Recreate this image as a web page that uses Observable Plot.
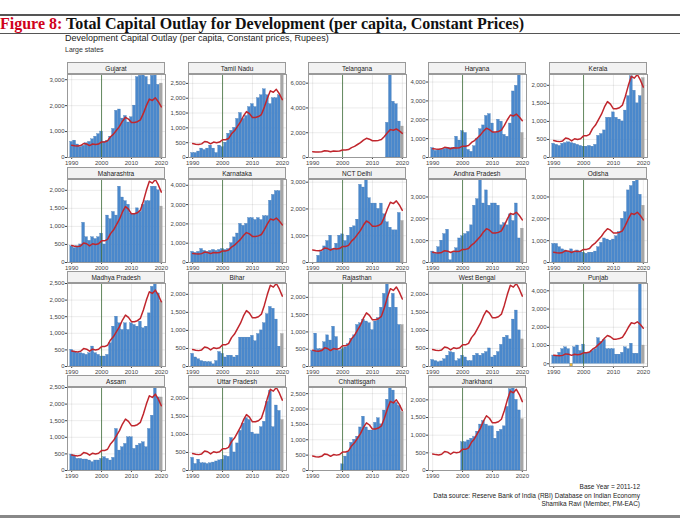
<!DOCTYPE html>
<html><head><meta charset="utf-8">
<script src="https://cdn.jsdelivr.net/npm/d3@7"></script>
<script src="https://cdn.jsdelivr.net/npm/@observablehq/plot@0.6"></script>
<style>
body{margin:0;width:680px;height:521px;background:#fff;position:relative;overflow:hidden;font-family:"Liberation Sans",Arial,sans-serif}
.abs{position:absolute}
.strip{position:absolute;border:1px solid #999;background:#f2f2f2;font-size:6.5px;text-align:center;line-height:11px;box-sizing:border-box;color:#222;z-index:2}
svg{overflow:visible}
</style></head><body>
<div class="abs" style="left:0;top:14px;width:680px;height:2px;background:#555"></div>
<div class="abs" style="left:0;top:15px;font:bold 16px 'Liberation Serif',serif;color:#111"><span style="color:#d0021b">Figure 8:</span> Total Capital Outlay for Development (per capita, Constant Prices)</div>
<div class="abs" style="left:0;top:33px;width:680px;height:1px;background:#555"></div>
<div class="abs" style="left:65px;top:33px;font-size:9px;color:#222">Development Capital Outlay (per capita, Constant prices, Rupees)</div>
<div class="abs" style="left:65px;top:46px;font-size:7px;color:#333">Large states</div>
<div class="abs" style="right:40px;top:483px;font-size:6.5px;color:#222;text-align:right;line-height:8.5px">Base Year = 2011-12<br>Data source: Reserve Bank of India (RBI) Database on Indian Economy<br>Shamika Ravi (Member, PM-EAC)</div>
<div class="abs" style="left:0;top:515px;width:680px;height:3px;background:#888"></div>
<script>
const years = d3.range(1990, 2021);
const average = [470,450,440,460,540,520,460,520,500,520,600,600,640,800,900,1050,1200,1400,1550,1480,1350,1350,1380,1450,1700,2000,2250,2200,2300,2150,1950];
const N = null;
const states = ["Gujarat","Tamil Nadu","Telangana","Haryana","Kerala","Maharashtra","Karnataka","NCT Delhi","Andhra Pradesh","Odisha","Madhya Pradesh","Bihar","Rajasthan","West Bengal","Punjab","Assam","Uttar Pradesh","Chhattisgarh","Jharkhand"];
const gujarat = [600,650,500,400,450,550,600,700,800,900,1000,600,650,800,1100,1800,1850,1500,1600,1350,1550,2000,3100,3150,3200,3100,2800,3150,3200,2800,2850];
const tamilNadu = [150,150,200,300,250,300,400,300,150,400,350,500,800,900,1000,1300,1500,1300,1400,1700,1800,1700,2000,2100,2300,2100,1800,2000,2000,2100,2800];
const telangana = [N,N,N,N,N,N,N,N,N,N,N,N,N,N,N,N,N,N,N,N,N,N,N,N,N,2800,6700,4500,4300,2900,2500];
const haryana = [500,350,400,400,450,500,500,500,1100,900,1400,1300,400,300,600,1000,1500,1700,2200,2300,1800,1300,2000,1900,1200,1100,1800,3500,3800,4400,1300];
const kerala = [380,350,320,380,400,420,400,380,350,320,300,300,320,300,350,600,650,750,1100,1100,1250,1100,1050,1000,1300,1700,2250,1850,1500,1700,2200];
const maharashtra = [450,400,450,500,1100,700,600,700,650,700,800,500,1300,1200,1400,1300,2100,1800,1700,1600,1350,1350,1500,1400,1600,1700,1700,2100,2100,2000,1550];
const karnataka = [550,500,550,700,600,550,600,650,600,650,700,650,700,1000,1300,1500,2000,1900,2000,2300,2300,2200,2300,2200,2400,2400,3200,3500,3700,3700,4300];
const delhi = [N,N,250,400,600,800,1000,500,700,1000,1050,800,1000,1300,1350,1600,2900,2800,3100,2400,2200,2200,2000,2200,1800,1500,1300,1200,1200,1850,1550];
const andhra = [500,400,700,1000,1300,1500,100,450,650,1100,1200,1300,1400,1700,2600,2900,3800,2700,3300,2600,2700,2700,2600,1700,1800,1700,2200,1900,2700,1100,1550];
const odisha = [850,850,700,600,550,500,600,500,550,500,450,400,450,450,500,700,900,1100,1050,1000,1050,1200,1400,2000,2300,3300,3500,3700,3800,3100,2600];
const madhya = [500,450,400,400,380,350,400,600,400,350,300,300,350,700,1200,1500,1300,1100,1300,1100,1300,1250,1200,1350,1150,1200,1600,2400,2500,2200,1950];
const bihar = [350,250,200,150,130,120,120,60,150,400,350,250,300,300,250,300,800,800,800,800,850,700,900,1000,1200,1450,1650,1600,1300,550,900];
const rajasthan = [450,950,500,500,700,900,750,1150,850,450,500,550,650,800,900,1200,1250,1350,1300,1250,1050,1300,1400,1700,2100,2400,1700,2100,1700,1200,1200];
const westBengal = [180,150,120,140,200,300,400,380,150,200,300,250,150,150,300,350,300,350,400,500,250,300,400,600,800,850,750,1300,1550,1000,750];
const punjab = [450,400,600,800,900,800,-150,900,1000,700,1050,600,600,700,800,1400,1200,1300,800,800,800,500,500,600,900,800,1100,550,550,4400,1000];
const assam = [480,450,350,350,330,330,300,250,300,300,350,400,350,300,380,1250,600,700,800,1000,1000,650,750,800,850,700,1250,1650,2500,2200,2200];
const uttar = [350,180,300,200,200,180,200,220,250,280,300,400,380,900,500,750,1100,1300,1450,1400,1050,1000,1000,1200,1350,1900,2200,1200,1800,1650,1400];
const chhattisgarh = [N,N,N,N,N,N,N,N,N,N,200,450,600,900,1000,1100,1400,1750,1400,1300,1300,1550,1700,1500,1950,2300,2700,2600,2200,2100,1900];
const jharkhand = [N,N,N,N,N,N,N,N,N,N,800,800,850,900,950,1100,1300,1400,1300,1250,1250,900,1100,1150,1250,1800,2300,2350,2000,1700,1450];
const series = [gujarat,tamilNadu,telangana,haryana,kerala,maharashtra,karnataka,delhi,andhra,odisha,madhya,bihar,rajasthan,westBengal,punjab,assam,uttar,chhattisgarh,jharkhand];

const colX = [67,188,308,428,549];
const rowY = [62,167,271,375];
const fmt = d3.format(",");
states.forEach((name, i) => {
  const c = i % 5, r = Math.floor(i / 5);
  const x0 = colX[c], y0 = rowY[r];
  const strip = document.createElement("div");
  strip.className = "strip";
  Object.assign(strip.style, {left: x0 + "px", top: y0 + "px", width: "98px", height: "12px"});
  strip.textContent = name;
  document.body.appendChild(strip);
  const data = years.map((y, k) => ({year: y, v: series[i][k]})).filter(d => d.v !== null);
  const line = years.map((y, k) => ({year: y, avg: average[k]}));
  const chart = Plot.plot({
    width: 131, height: 98, marginLeft: 33, marginRight: 0, marginTop: 1, marginBottom: 14,
    style: {fontSize: "6px", fontFamily: "Liberation Sans, Arial, sans-serif", color: "#444", background: "transparent", overflow: "visible"},
    x: {domain: [1988.6, 2021.4], ticks: [1990, 2000, 2010, 2020], tickFormat: d => String(d), label: null, tickSize: 2, tickPadding: 1, grid: true},
    y: {label: null, ticks: 4, tickFormat: fmt, tickSize: 2, tickPadding: 1, grid: true},
    marks: [
      Plot.rectY(data, {x1: d => d.year - 0.45, x2: d => d.year + 0.45, y: "v",
        fill: d => d.year === 2020 ? "#a6a6a6" : (d.v < 0 ? "#f2b632" : "#4a88cc"), stroke: d => d.year === 2020 ? "#999" : "#3a72b0", strokeWidth: 0.3}),
      Plot.ruleX([2000], {stroke: "#3f6e3a", strokeWidth: 0.8}),
      Plot.lineY(line, {x: "year", y: "avg", stroke: "#c0262d", strokeWidth: 1.5}),
      Plot.frame({stroke: "#999"})
    ]
  });
  chart.style.position = "absolute";
  chart.style.left = (x0 - 33) + "px";
  chart.style.top = (y0 + 11) + "px";
  document.body.appendChild(chart);
});
</script>
</body></html>
